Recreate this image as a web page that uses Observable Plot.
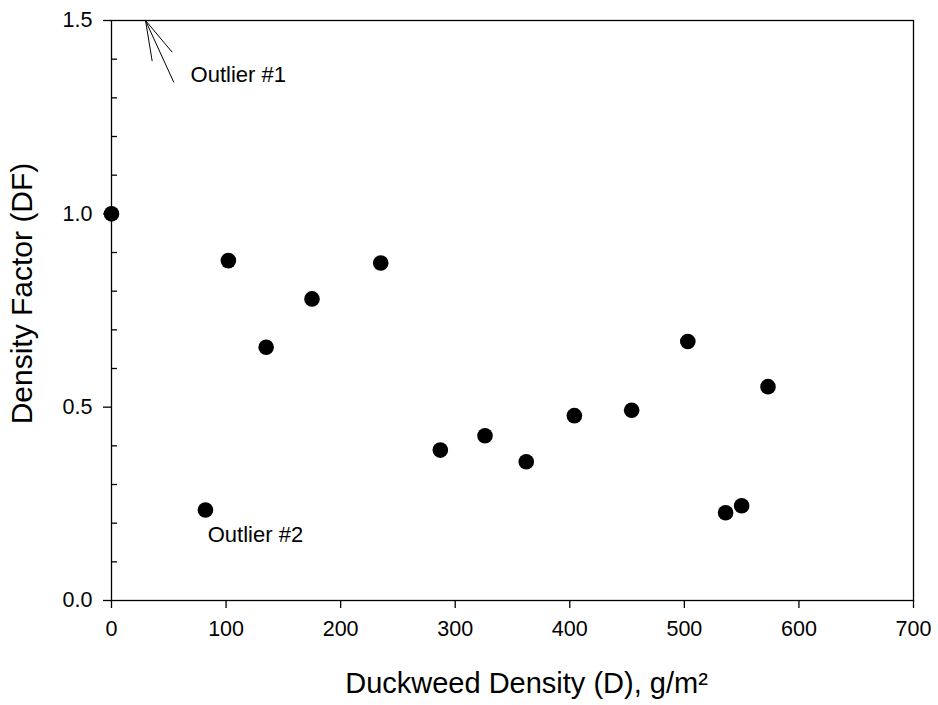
<!DOCTYPE html>
<html>
<head>
<meta charset="utf-8">
<script src="https://cdn.jsdelivr.net/npm/d3@7"></script>
<script src="https://cdn.jsdelivr.net/npm/@observablehq/plot@0.6"></script>
<style>
  body { margin: 0; background: #fff; }
  #chart svg { display: block; }
</style>
</head>
<body>
<div id="chart"></div>
<script>
// Data
const density = [0, 82, 102, 135, 175, 235, 287, 326, 362, 404, 454, 503, 536, 550, 573];
const densityFactor = [1.0, 0.234, 0.879, 0.655, 0.780, 0.873, 0.389, 0.426, 0.359, 0.478, 0.492, 0.670, 0.227, 0.245, 0.553];

const xTicks = [0, 100, 200, 300, 400, 500, 600, 700];
const yTicks = [0, 0.5, 1.0, 1.5];
const yMinorTicks = [0.1, 0.2, 0.3, 0.4, 0.6, 0.7, 0.8, 0.9, 1.1, 1.2, 1.3, 1.4];

const xTitle = "Duckweed Density (D), g/m²";
const yTitle = "Density Factor (DF)";

// Annotations (data units)
const annotationText = ["Outlier #1", "Outlier #2"];
const annotationX = [69, 84];
const annotationY = [1.358, 0.17];

// Arrow for outlier #1: shaft and two head wings, all from the apex
const arrowX1 = [29.7, 29.7, 29.7];
const arrowY1 = [1.5, 1.5, 1.5];
const arrowX2 = [54.4, 35.5, 53.0];
const arrowY2 = [1.340, 1.395, 1.418];

const points = density.map((d, i) => ({D: d, DF: densityFactor[i]}));
const labels = annotationText.map((t, i) => ({text: t, x: annotationX[i], y: annotationY[i]}));
const arrows = arrowX1.map((x, i) => ({x1: x, y1: arrowY1[i], x2: arrowX2[i], y2: arrowY2[i]}));

const font = "'Liberation Sans', Arial, Helvetica, sans-serif";

const chart = Plot.plot({
  width: 938,
  height: 705,
  marginLeft: 111,
  marginRight: 25,
  marginTop: 20,
  marginBottom: 105,
  style: {fontFamily: font, fontSize: "21.5px", color: "black", background: "white", overflow: "visible"},
  x: {domain: [0, 700]},
  y: {domain: [0, 1.5]},
  marks: [
    Plot.frame({stroke: "black", strokeWidth: 1.3}),
    Plot.axisX({ticks: xTicks, tickSize: 8, tickPadding: 12, tickFormat: d => String(d), fontSize: 21.5, label: null, strokeWidth: 1.3}),
    Plot.axisY({ticks: yTicks, tickSize: 8, tickPadding: 11, tickFormat: d => d.toFixed(1), fontSize: 21.5, label: null, strokeWidth: 1.3}),
    Plot.axisY({ticks: yMinorTicks, tickSize: 6, dx: 6, text: null, label: null, strokeWidth: 1.3}),
    Plot.text([xTitle], {frameAnchor: "bottom", textAnchor: "middle", lineAnchor: "middle", dx: 14, dy: 83, fontSize: 29, fill: "black"}),
    Plot.text([yTitle], {frameAnchor: "left", textAnchor: "middle", lineAnchor: "middle", dx: -89, dy: -17, rotate: -90, fontSize: 30, fill: "black"}),
    Plot.link(arrows, {x1: "x1", y1: "y1", x2: "x2", y2: "y2", stroke: "black", strokeWidth: 1}),
    Plot.text(labels, {x: "x", y: "y", text: "text", textAnchor: "start", fontSize: 22, fill: "black"}),
    Plot.dot(points, {x: "D", y: "DF", r: 7.8, fill: "black", stroke: "none"})
  ]
});

document.getElementById("chart").appendChild(chart);
</script>
</body>
</html>
